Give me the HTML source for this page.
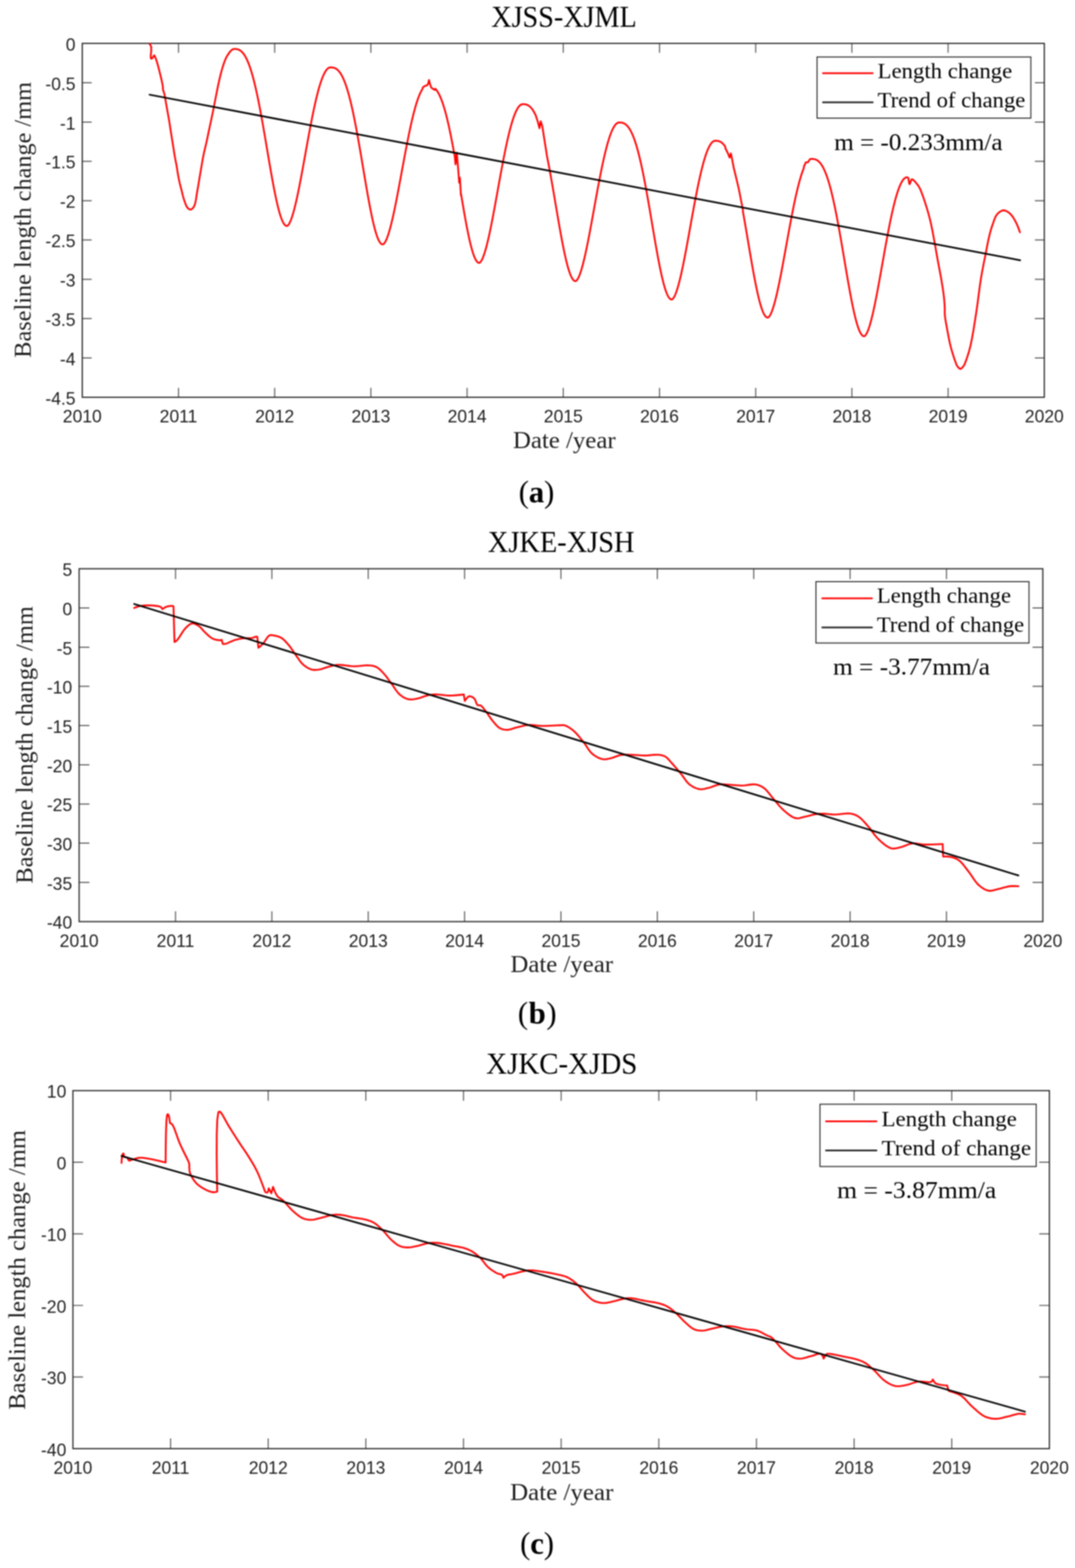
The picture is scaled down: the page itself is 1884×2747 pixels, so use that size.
<!DOCTYPE html><html><head><meta charset="utf-8"><title>Baseline length change</title>
<style>html,body{margin:0;padding:0;background:#fff;}svg{display:block;filter:blur(0.8px);}</style></head><body>
<svg width="1884" height="2747" viewBox="0 0 1884 2747">
<rect width="1884" height="2747" fill="#fff"/>
<g>
<path d="M312.8 696V679.5M312.8 76V92.5M481.4 696V679.5M481.4 76V92.5M650 696V679.5M650 76V92.5M818.6 696V679.5M818.6 76V92.5M987.2 696V679.5M987.2 76V92.5M1155.8 696V679.5M1155.8 76V92.5M1324.4 696V679.5M1324.4 76V92.5M1493 696V679.5M1493 76V92.5M1661.6 696V679.5M1661.6 76V92.5M144.2 144.89H160.7M1830.2 144.89H1813.7M144.2 213.78H160.7M1830.2 213.78H1813.7M144.2 282.67H160.7M1830.2 282.67H1813.7M144.2 351.56H160.7M1830.2 351.56H1813.7M144.2 420.44H160.7M1830.2 420.44H1813.7M144.2 489.33H160.7M1830.2 489.33H1813.7M144.2 558.22H160.7M1830.2 558.22H1813.7M144.2 627.11H160.7M1830.2 627.11H1813.7" stroke="#4a4a4a" stroke-width="1.7" fill="none"/>
<rect x="144.2" y="76" width="1686" height="620" stroke="#262626" stroke-width="2.1" fill="none"/>
<text transform="translate(132.4 88.78) scale(0.965 1)" font-size="31.8" font-family="'Liberation Sans', Arial, sans-serif" fill="#1e1e1e" text-anchor="end">0</text>
<text transform="translate(132.4 157.67) scale(0.965 1)" font-size="31.8" font-family="'Liberation Sans', Arial, sans-serif" fill="#1e1e1e" text-anchor="end">-0.5</text>
<text transform="translate(132.4 226.56) scale(0.965 1)" font-size="31.8" font-family="'Liberation Sans', Arial, sans-serif" fill="#1e1e1e" text-anchor="end">-1</text>
<text transform="translate(132.4 295.45) scale(0.965 1)" font-size="31.8" font-family="'Liberation Sans', Arial, sans-serif" fill="#1e1e1e" text-anchor="end">-1.5</text>
<text transform="translate(132.4 364.34) scale(0.965 1)" font-size="31.8" font-family="'Liberation Sans', Arial, sans-serif" fill="#1e1e1e" text-anchor="end">-2</text>
<text transform="translate(132.4 433.23) scale(0.965 1)" font-size="31.8" font-family="'Liberation Sans', Arial, sans-serif" fill="#1e1e1e" text-anchor="end">-2.5</text>
<text transform="translate(132.4 502.12) scale(0.965 1)" font-size="31.8" font-family="'Liberation Sans', Arial, sans-serif" fill="#1e1e1e" text-anchor="end">-3</text>
<text transform="translate(132.4 571.01) scale(0.965 1)" font-size="31.8" font-family="'Liberation Sans', Arial, sans-serif" fill="#1e1e1e" text-anchor="end">-3.5</text>
<text transform="translate(132.4 639.9) scale(0.965 1)" font-size="31.8" font-family="'Liberation Sans', Arial, sans-serif" fill="#1e1e1e" text-anchor="end">-4</text>
<text transform="translate(132.4 708.78) scale(0.965 1)" font-size="31.8" font-family="'Liberation Sans', Arial, sans-serif" fill="#1e1e1e" text-anchor="end">-4.5</text>
<text transform="translate(144.2 740) scale(0.965 1)" font-size="31.8" font-family="'Liberation Sans', Arial, sans-serif" fill="#1e1e1e" text-anchor="middle">2010</text>
<text transform="translate(312.8 740) scale(0.965 1)" font-size="31.8" font-family="'Liberation Sans', Arial, sans-serif" fill="#1e1e1e" text-anchor="middle">2011</text>
<text transform="translate(481.4 740) scale(0.965 1)" font-size="31.8" font-family="'Liberation Sans', Arial, sans-serif" fill="#1e1e1e" text-anchor="middle">2012</text>
<text transform="translate(650 740) scale(0.965 1)" font-size="31.8" font-family="'Liberation Sans', Arial, sans-serif" fill="#1e1e1e" text-anchor="middle">2013</text>
<text transform="translate(818.6 740) scale(0.965 1)" font-size="31.8" font-family="'Liberation Sans', Arial, sans-serif" fill="#1e1e1e" text-anchor="middle">2014</text>
<text transform="translate(987.2 740) scale(0.965 1)" font-size="31.8" font-family="'Liberation Sans', Arial, sans-serif" fill="#1e1e1e" text-anchor="middle">2015</text>
<text transform="translate(1155.8 740) scale(0.965 1)" font-size="31.8" font-family="'Liberation Sans', Arial, sans-serif" fill="#1e1e1e" text-anchor="middle">2016</text>
<text transform="translate(1324.4 740) scale(0.965 1)" font-size="31.8" font-family="'Liberation Sans', Arial, sans-serif" fill="#1e1e1e" text-anchor="middle">2017</text>
<text transform="translate(1493 740) scale(0.965 1)" font-size="31.8" font-family="'Liberation Sans', Arial, sans-serif" fill="#1e1e1e" text-anchor="middle">2018</text>
<text transform="translate(1661.6 740) scale(0.965 1)" font-size="31.8" font-family="'Liberation Sans', Arial, sans-serif" fill="#1e1e1e" text-anchor="middle">2019</text>
<text transform="translate(1830.2 740) scale(0.965 1)" font-size="31.8" font-family="'Liberation Sans', Arial, sans-serif" fill="#1e1e1e" text-anchor="middle">2020</text>
<path d="M262.2 76.9L262.82 77.79L264.09 79.92L265.1 82.5L265.03 89.43L264.15 97.8L264.5 102.6L265.24 102.78L266.14 102.51L267 102L268.09 100.31L269.1 98.08L270.1 97L271.39 98.46L272.68 101.66L273.9 105.1L275.21 109.03L276.42 113.3L277.6 117.7L278.89 122.55L280.16 127.56L281.4 132.7L282.82 138.73L284.2 144.92L285.2 150.3L285.44 153.09L285.52 155.54L285.8 157.8L286.36 159.49L287.05 161.04L287.7 162.8L288.38 165.79L288.97 169.19L289.6 172.9L290.57 178.34L291.62 184.33L292.7 190.5L293.97 197.51L295.28 204.75L296.5 211.8L297.49 218.02L298.4 224.09L299.3 230L300.14 235.29L300.97 240.44L301.8 245.6L302.63 250.8L303.47 256L304.3 261.2L305.12 266.47L305.94 271.73L306.8 276.8L307.62 281.02L308.48 285.08L309.3 289.3L310.13 294.37L310.93 299.64L311.8 304.9L312.77 310.17L313.81 315.44L314.9 320.5L315.94 324.74L317.03 328.82L318.1 332.9L319.11 337.09L320.11 341.29L321.2 345.4L322.35 349.28L323.58 353.08L324.9 356.6L326.02 359.39L327.22 361.98L328.7 364.1L330.34 365.62L332.18 366.8L334 367.2L335.88 366.44L337.72 364.82L339.3 362.9L340.6 360.56L341.55 357.85L342.4 354.8L343.39 350.02L344.18 344.65L345 339.2L345.97 333.63L346.96 327.98L348 322L349.27 314.36L350.6 306.28L352 298L353.59 288.65L355.26 279.05L357 270L358.56 263.04L360.17 256.47L361.7 250L362.97 244.13L364.16 238.35L365.5 231.9L367.88 220.76L370.53 208.31L373 196.5L374.73 187.78L376.33 179.52L378 171L380.01 160.83L382.11 150.34L384.3 140.3L386.31 131.92L388.39 123.89L390.6 116.4L392.54 110.52L394.57 105.03L396.8 100.1L399.28 95.99L401.89 92.24L403.1 90.6L404.18 89.49L404.89 88.71L405.59 88.03L406.29 87.44L406.99 86.94L407.69 86.53L408.39 86.21L409.1 85.98L409.8 85.85L410.5 85.8L411.2 85.8L411.91 85.81L412.61 85.84L413.32 85.89L414.02 85.96L414.72 86.05L415.43 86.18L416.13 86.33L416.83 86.52L417.54 86.75L418.24 87.02L418.95 87.33L419.65 87.68L420.35 88.08L421.06 88.53L421.76 89.02L422.46 89.57L423.17 90.17L423.87 90.83L424.58 91.54L425.28 92.31L425.98 93.14L426.69 94.03L427.39 94.98L428.1 96L428.8 97.08L429.5 98.23L430.21 99.44L430.91 100.73L431.61 102.08L432.32 103.5L433.02 104.99L433.73 106.55L434.43 108.18L435.13 109.89L435.84 111.67L436.54 113.52L437.25 115.44L437.95 117.44L438.65 119.51L439.36 121.66L440.06 123.88L440.76 126.17L441.47 128.53L442.17 130.97L442.88 133.48L443.58 136.07L444.28 138.72L444.99 141.45L445.69 144.25L446.39 147.11L447.1 150.05L447.8 153.05L448.51 156.12L449.21 159.26L449.91 162.46L450.62 165.72L451.32 169.05L452.03 172.43L452.73 175.88L453.43 179.38L454.14 182.93L454.84 186.54L455.54 190.2L456.25 193.91L456.95 197.67L457.66 201.47L458.36 205.31L459.06 209.2L459.77 213.12L460.47 217.08L461.17 221.07L461.88 225.09L462.58 229.14L463.29 233.21L463.99 237.31L464.69 241.42L465.4 245.55L466.1 249.69L466.81 253.84L467.51 258L468.21 262.16L468.92 266.32L469.62 270.47L470.32 274.62L471.03 278.76L471.73 282.88L472.44 286.99L473.14 291.07L473.84 295.13L474.55 299.16L475.25 303.16L475.95 307.12L476.66 311.05L477.36 314.93L478.07 318.76L478.77 322.54L479.47 326.27L480.18 329.93L480.88 333.54L481.59 337.08L482.29 340.55L482.99 343.95L483.7 347.27L484.4 350.51L485.1 353.66L485.81 356.73L486.51 359.71L487.22 362.59L487.92 365.37L488.62 368.05L489.33 370.63L490.03 373.1L490.74 375.46L491.44 377.7L492.14 379.83L492.85 381.83L493.55 383.71L494.25 385.47L494.96 387.1L495.66 388.6L496.37 389.96L497.07 391.19L497.77 392.28L498.48 393.23L499.18 394.04L499.88 394.71L500.59 395.23L501.29 395.6L502 395.82L502.7 395.9L503.4 395.72L504.1 395.3L504.8 394.67L505.5 393.86L506.2 392.89L506.91 391.76L507.61 390.47L508.31 389.05L509.01 387.48L509.71 385.79L510.41 383.97L511.11 382.03L511.81 379.97L512.51 377.8L513.21 375.52L513.91 373.14L514.62 370.66L515.32 368.08L516.02 365.41L516.72 362.65L517.42 359.81L518.12 356.88L518.82 353.87L519.52 350.79L520.22 347.64L520.92 344.43L521.62 341.14L522.33 337.8L523.03 334.4L523.73 330.94L524.43 327.43L525.13 323.88L525.83 320.28L526.53 316.64L527.23 312.96L527.93 309.25L528.63 305.51L529.33 301.74L530.04 297.94L530.74 294.12L531.44 290.28L532.14 286.43L532.84 282.56L533.54 278.69L534.24 274.81L534.94 270.92L535.64 267.03L536.34 263.15L537.04 259.27L537.75 255.39L538.45 251.53L539.15 247.68L539.85 243.85L540.55 240.03L541.25 236.24L541.95 232.47L542.65 228.73L543.35 225.02L544.05 221.33L544.76 217.69L545.46 214.08L546.16 210.5L546.86 206.97L547.56 203.48L548.26 200.04L548.96 196.65L549.66 193.3L550.36 190.01L551.06 186.77L551.76 183.59L552.47 180.46L553.17 177.4L553.87 174.4L554.57 171.46L555.27 168.58L555.97 165.77L556.67 163.03L557.37 160.36L558.07 157.77L558.77 155.24L559.47 152.79L560.18 150.41L560.88 148.11L561.58 145.89L562.28 143.75L562.98 141.69L563.68 139.71L564.38 137.81L565.08 136L565.78 134.27L566.48 132.62L567.18 131.06L567.89 129.59L568.59 128.2L569.29 126.9L569.99 125.69L570.69 124.57L571.39 123.54L572.09 122.59L572.79 121.74L573.49 120.98L574.19 120.3L574.89 119.72L575.6 119.22L576.3 118.82L577 118.5L577.7 118.28L578.4 118.14L579.1 118.1L579.8 118.1L580.51 118.11L581.21 118.14L581.92 118.19L582.62 118.26L583.33 118.36L584.03 118.48L584.74 118.64L585.44 118.84L586.15 119.07L586.85 119.34L587.56 119.66L588.26 120.02L588.96 120.42L589.67 120.88L590.37 121.39L591.08 121.94L591.78 122.56L592.49 123.23L593.19 123.95L593.9 124.74L594.6 125.59L595.31 126.5L596.01 127.47L596.72 128.5L597.42 129.61L598.12 130.78L598.83 132.02L599.53 133.32L600.24 134.7L600.94 136.15L601.65 137.67L602.35 139.26L603.06 140.92L603.76 142.66L604.47 144.47L605.17 146.36L605.88 148.32L606.58 150.35L607.28 152.46L607.99 154.65L608.69 156.91L609.4 159.24L610.1 161.65L610.81 164.13L611.51 166.69L612.22 169.32L612.92 172.02L613.63 174.8L614.33 177.64L615.04 180.56L615.74 183.54L616.44 186.6L617.15 189.72L617.85 192.91L618.56 196.16L619.26 199.47L619.97 202.85L620.67 206.29L621.38 209.78L622.08 213.34L622.79 216.95L623.49 220.61L624.2 224.32L624.9 228.08L625.6 231.89L626.31 235.75L627.01 239.64L627.72 243.58L628.42 247.55L629.13 251.56L629.83 255.59L630.54 259.66L631.24 263.76L631.95 267.87L632.65 272.01L633.36 276.16L634.06 280.33L634.76 284.51L635.47 288.7L636.17 292.89L636.88 297.08L637.58 301.27L638.29 305.45L638.99 309.63L639.7 313.79L640.4 317.93L641.11 322.06L641.81 326.15L642.52 330.23L643.22 334.27L643.92 338.27L644.63 342.23L645.33 346.16L646.04 350.03L646.74 353.86L647.45 357.62L648.15 361.34L648.86 364.99L649.56 368.57L650.27 372.08L650.97 375.52L651.68 378.88L652.38 382.16L653.08 385.36L653.79 388.47L654.49 391.49L655.2 394.41L655.9 397.23L656.61 399.95L657.31 402.56L658.02 405.06L658.72 407.45L659.43 409.73L660.13 411.89L660.84 413.92L661.54 415.83L662.24 417.61L662.95 419.27L663.65 420.79L664.36 422.17L665.06 423.42L665.77 424.53L666.47 425.49L667.18 426.31L667.88 426.99L668.59 427.52L669.29 427.9L670 428.12L670.7 428.2L671.41 428.03L672.11 427.62L672.82 427.01L673.52 426.22L674.23 425.27L674.93 424.17L675.64 422.93L676.34 421.54L677.05 420.02L677.75 418.37L678.46 416.6L679.16 414.72L679.87 412.71L680.58 410.6L681.28 408.39L681.99 406.07L682.69 403.65L683.4 401.14L684.1 398.54L684.81 395.85L685.51 393.08L686.22 390.23L686.92 387.3L687.63 384.29L688.34 381.22L689.04 378.08L689.75 374.87L690.45 371.61L691.16 368.29L691.86 364.91L692.57 361.48L693.27 358.01L693.98 354.49L694.68 350.93L695.39 347.33L696.09 343.69L696.8 340.02L697.51 336.33L698.21 332.6L698.92 328.86L699.62 325.09L700.33 321.3L701.03 317.5L701.74 313.69L702.44 309.87L703.15 306.05L703.85 302.22L704.56 298.39L705.26 294.56L705.97 290.74L706.68 286.92L707.38 283.12L708.09 279.33L708.79 275.55L709.5 271.79L710.2 268.06L710.91 264.34L711.61 260.66L712.32 257L713.02 253.37L713.73 249.77L714.44 246.21L715.14 242.68L715.85 239.2L716.55 235.76L717.26 232.36L717.96 229L718.67 225.7L719.37 222.44L720.08 219.24L720.78 216.09L721.49 212.99L722.19 209.95L722.9 206.98L723.61 204.06L724.31 201.2L725.02 198.41L725.72 195.68L726.43 193.03L727.13 190.44L727.84 187.92L728.54 185.47L729.25 183.09L729.95 180.79L730.66 178.56L731.36 176.41L732.07 174.33L732.78 172.33L733.48 170.42L734.19 168.58L734.89 166.82L735.6 165.15L736.3 163.55L737.01 162.04L737.71 160.62L738.42 159.28L739.12 158.02L739.83 156.85L740.54 155.76L741.2 152.8L745 150.5L749.2 149L750.5 146L751.9 140.2L753.5 147L755.8 153.4L758.5 155.5L762.4 157.5L763.06 155.49L763.77 156.29L764.47 157.16L765.17 158.09L765.87 159.08L766.58 160.14L767.28 161.27L767.98 162.47L768.69 163.73L769.39 165.07L770.09 166.48L770.8 167.96L771.5 169.51L772.2 171.14L772.91 172.84L773.61 174.62L774.31 176.47L775.01 178.4L775.72 180.4L776.42 182.48L777.12 184.64L777.83 186.87L778.53 189.17L779.23 191.56L779.94 194.02L780.64 196.55L781.34 199.16L782.05 201.85L782.75 204.61L783.45 207.44L784.16 210.34L784.86 213.31L785.56 216.36L786.26 219.47L786.97 222.66L787.67 225.91L788.37 229.22L789.08 232.6L789.78 236.04L790.48 239.54L791.19 243.1L791.89 246.72L792.59 250.39L793.3 254.12L794 257.9L794.7 261.72L795.4 265.59L796.11 269.51L796.8 272L798.3 288L799.4 278L800.5 267.5L801.5 279L802.6 290.9L804.8 320.2L806 311.4L807.8 342.1L808.06 340.13L808.76 344.34L809.47 348.53L810.17 352.7L810.87 356.85L811.58 360.98L812.28 365.07L812.98 369.13L813.69 373.15L814.39 377.12L815.09 381.05L815.79 384.93L816.5 388.76L817.2 392.52L817.9 396.23L818.61 399.87L819.31 403.43L820.01 406.93L820.72 410.34L821.42 413.67L822.12 416.92L822.83 420.08L823.53 423.15L824.23 426.12L824.93 428.98L825.64 431.75L826.34 434.41L827.04 436.95L827.75 439.38L828.45 441.7L829.15 443.89L829.86 445.96L830.56 447.91L831.26 449.72L831.97 451.41L832.67 452.95L833.37 454.36L834.08 455.63L834.78 456.76L835.48 457.74L836.18 458.58L836.89 459.27L837.59 459.8L838.29 460.19L839 460.42L839.7 460.5L840.4 460.32L841.1 459.9L841.8 459.27L842.5 458.46L843.2 457.49L843.91 456.35L844.61 455.07L845.31 453.64L846.01 452.08L846.71 450.38L847.41 448.56L848.11 446.62L848.81 444.56L849.51 442.39L850.21 440.11L850.91 437.73L851.62 435.24L852.32 432.66L853.02 429.99L853.72 427.23L854.42 424.38L855.12 421.45L855.82 418.44L856.52 415.36L857.22 412.21L857.92 408.99L858.62 405.7L859.33 402.36L860.03 398.95L860.73 395.49L861.43 391.99L862.13 388.43L862.83 384.83L863.53 381.19L864.23 377.51L864.93 373.79L865.63 370.04L866.33 366.27L867.04 362.47L867.74 358.65L868.44 354.81L869.14 350.95L869.84 347.08L870.54 343.2L871.24 339.32L871.94 335.43L872.64 331.54L873.34 327.65L874.04 323.77L874.75 319.89L875.45 316.03L876.15 312.17L876.85 308.34L877.55 304.52L878.25 300.73L878.95 296.95L879.65 293.21L880.35 289.49L881.05 285.81L881.76 282.16L882.46 278.54L883.16 274.97L883.86 271.44L884.56 267.95L885.26 264.5L885.96 261.1L886.66 257.76L887.36 254.46L888.06 251.22L888.76 248.04L889.47 244.91L890.17 241.84L890.87 238.84L891.57 235.89L892.27 233.02L892.97 230.21L893.67 227.47L894.37 224.79L895.07 222.19L895.77 219.67L896.47 217.21L897.18 214.84L897.88 212.54L898.58 210.31L899.28 208.17L899.98 206.11L900.68 204.13L901.38 202.23L902.08 200.41L902.78 198.68L903.48 197.03L904.18 195.47L904.89 194L905.59 192.61L906.29 191.31L906.99 190.1L907.69 188.98L908.39 187.94L909.09 187L909.79 186.14L910.49 185.38L911.19 184.7L911.89 184.12L912.6 183.62L913.3 183.22L914 182.9L914.7 182.68L915.4 182.54L916.1 182.5L916.81 182.5L917.51 182.51L918.22 182.54L918.92 182.59L919.63 182.66L920.33 182.75L921.04 182.88L921.74 183.03L922.45 183.22L923.15 183.45L923.86 183.72L924.56 184.03L925.27 184.38L925.97 184.78L926.68 185.22L927.39 185.72L928.09 186.27L928.8 186.87L929.5 187.52L930.21 188.24L930.91 189.01L931.62 189.84L932.32 190.73L933.03 191.68L933.73 192.7L934.44 193.78L935.14 194.93L935.85 196.14L936.55 197.42L937.26 198.77L937.97 200.19L938.67 201.68L939.38 203.24L939.8 205L942.5 213L945.5 224.7L947.6 212.6L950.4 221.1L954 243.9L958.2 270.5L958.42 272.55L959.13 276.05L959.83 279.6L960.54 283.21L961.24 286.87L961.95 290.58L962.65 294.33L963.36 298.13L964.06 301.98L964.77 305.86L965.47 309.78L966.18 313.74L966.88 317.73L967.59 321.75L968.3 325.79L969 329.86L969.71 333.96L970.41 338.07L971.12 342.2L971.82 346.34L972.53 350.49L973.23 354.64L973.94 358.8L974.64 362.96L975.35 367.11L976.05 371.26L976.76 375.4L977.46 379.52L978.17 383.62L978.88 387.71L979.58 391.76L980.29 395.79L980.99 399.79L981.7 403.75L982.4 407.67L983.11 411.55L983.81 415.38L984.52 419.16L985.22 422.89L985.93 426.55L986.63 430.16L987.34 433.7L988.05 437.17L988.75 440.56L989.46 443.88L990.16 447.12L990.87 450.27L991.57 453.34L992.28 456.32L992.98 459.2L993.69 461.98L994.39 464.66L995.1 467.24L995.8 469.71L996.51 472.06L997.21 474.31L997.92 476.43L998.63 478.44L999.33 480.32L1000.04 482.07L1000.74 483.7L1001.45 485.2L1002.15 486.56L1002.86 487.79L1003.56 488.88L1004.27 489.83L1004.97 490.64L1005.68 491.31L1006.38 491.83L1007.09 492.2L1007.79 492.42L1008.5 492.5L1009.2 492.32L1009.91 491.9L1010.61 491.27L1011.31 490.46L1012.01 489.49L1012.72 488.35L1013.42 487.07L1014.12 485.64L1014.82 484.08L1015.53 482.39L1016.23 480.57L1016.93 478.62L1017.64 476.57L1018.34 474.4L1019.04 472.12L1019.74 469.73L1020.45 467.25L1021.15 464.67L1021.85 462L1022.56 459.24L1023.26 456.39L1023.96 453.47L1024.66 450.46L1025.37 447.38L1026.07 444.23L1026.77 441.01L1027.47 437.72L1028.18 434.38L1028.88 430.97L1029.58 427.52L1030.29 424.01L1030.99 420.45L1031.69 416.85L1032.39 413.21L1033.1 409.53L1033.8 405.82L1034.5 402.08L1035.2 398.3L1035.91 394.51L1036.61 390.69L1037.31 386.85L1038.02 382.99L1038.72 379.12L1039.42 375.25L1040.12 371.36L1040.83 367.47L1041.53 363.58L1042.23 359.7L1042.93 355.82L1043.64 351.94L1044.34 348.08L1045.04 344.23L1045.75 340.39L1046.45 336.58L1047.15 332.78L1047.85 329.01L1048.56 325.27L1049.26 321.55L1049.96 317.87L1050.67 314.22L1051.37 310.61L1052.07 307.04L1052.77 303.5L1053.48 300.01L1054.18 296.57L1054.88 293.18L1055.58 289.83L1056.29 286.54L1056.99 283.3L1057.69 280.11L1058.4 276.99L1059.1 273.92L1059.8 270.92L1060.5 267.98L1061.21 265.1L1061.91 262.29L1062.61 259.55L1063.31 256.88L1064.02 254.28L1064.72 251.75L1065.42 249.3L1066.13 246.92L1066.83 244.63L1067.53 242.4L1068.23 240.26L1068.94 238.2L1069.64 236.22L1070.34 234.32L1071.04 232.5L1071.75 230.77L1072.45 229.13L1073.15 227.57L1073.86 226.09L1074.56 224.71L1075.26 223.41L1075.96 222.2L1076.67 221.07L1077.37 220.04L1078.07 219.1L1078.78 218.24L1079.48 217.48L1080.18 216.8L1080.88 216.22L1081.59 215.72L1082.29 215.32L1082.99 215L1083.69 214.78L1084.4 214.64L1085.1 214.6L1085.8 214.6L1086.5 214.61L1087.21 214.64L1087.91 214.69L1088.61 214.76L1089.31 214.85L1090.02 214.98L1090.72 215.13L1091.42 215.32L1092.12 215.55L1092.83 215.82L1093.53 216.13L1094.23 216.48L1094.93 216.88L1095.63 217.33L1096.34 217.82L1097.04 218.37L1097.74 218.97L1098.44 219.63L1099.15 220.34L1099.85 221.11L1100.55 221.94L1101.25 222.83L1101.95 223.78L1102.66 224.8L1103.36 225.88L1104.06 227.03L1104.76 228.24L1105.47 229.53L1106.17 230.88L1106.87 232.3L1107.57 233.79L1108.28 235.35L1108.98 236.98L1109.68 238.69L1110.38 240.47L1111.08 242.32L1111.79 244.24L1112.49 246.24L1113.19 248.31L1113.89 250.46L1114.6 252.68L1115.3 254.97L1116 257.33L1116.7 259.77L1117.41 262.28L1118.11 264.87L1118.81 267.52L1119.51 270.25L1120.21 273.05L1120.92 275.91L1121.62 278.85L1122.32 281.85L1123.02 284.92L1123.73 288.06L1124.43 291.26L1125.13 294.52L1125.83 297.85L1126.54 301.23L1127.24 304.68L1127.94 308.18L1128.64 311.73L1129.34 315.34L1130.05 319L1130.75 322.71L1131.45 326.47L1132.15 330.27L1132.86 334.11L1133.56 338L1134.26 341.92L1134.96 345.88L1135.66 349.87L1136.37 353.89L1137.07 357.94L1137.77 362.01L1138.47 366.11L1139.18 370.22L1139.88 374.35L1140.58 378.49L1141.28 382.64L1141.99 386.8L1142.69 390.96L1143.39 395.12L1144.09 399.27L1144.79 403.42L1145.5 407.56L1146.2 411.68L1146.9 415.79L1147.6 419.87L1148.31 423.93L1149.01 427.96L1149.71 431.96L1150.41 435.92L1151.12 439.85L1151.82 443.73L1152.52 447.56L1153.22 451.34L1153.92 455.07L1154.63 458.73L1155.33 462.34L1156.03 465.88L1156.73 469.35L1157.44 472.75L1158.14 476.07L1158.84 479.31L1159.54 482.46L1160.25 485.53L1160.95 488.51L1161.65 491.39L1162.35 494.17L1163.05 496.85L1163.76 499.43L1164.46 501.9L1165.16 504.26L1165.86 506.5L1166.57 508.63L1167.27 510.63L1167.97 512.51L1168.67 514.27L1169.37 515.9L1170.08 517.4L1170.78 518.76L1171.48 519.99L1172.18 521.08L1172.89 522.03L1173.59 522.84L1174.29 523.51L1174.99 524.03L1175.7 524.4L1176.4 524.62L1177.1 524.7L1177.8 524.52L1178.5 524.1L1179.2 523.47L1179.9 522.66L1180.6 521.69L1181.31 520.55L1182.01 519.27L1182.71 517.84L1183.41 516.27L1184.11 514.58L1184.81 512.76L1185.51 510.81L1186.21 508.75L1186.91 506.58L1187.61 504.3L1188.31 501.92L1189.02 499.43L1189.72 496.85L1190.42 494.18L1191.12 491.42L1191.82 488.57L1192.52 485.64L1193.22 482.63L1193.92 479.55L1194.62 476.39L1195.32 473.17L1196.02 469.88L1196.73 466.54L1197.43 463.13L1198.13 459.67L1198.83 456.16L1199.53 452.6L1200.23 449L1200.93 445.36L1201.63 441.68L1202.33 437.96L1203.03 434.21L1203.73 430.44L1204.44 426.63L1205.14 422.81L1205.84 418.97L1206.54 415.11L1207.24 411.24L1207.94 407.36L1208.64 403.47L1209.34 399.58L1210.04 395.69L1210.74 391.8L1211.44 387.92L1212.15 384.04L1212.85 380.17L1213.55 376.32L1214.25 372.48L1214.95 368.67L1215.65 364.87L1216.35 361.1L1217.05 357.35L1217.75 353.63L1218.45 349.95L1219.16 346.29L1219.86 342.68L1220.56 339.1L1221.26 335.57L1221.96 332.08L1222.66 328.63L1223.36 325.23L1224.06 321.88L1224.76 318.59L1225.46 315.35L1226.16 312.16L1226.87 309.03L1227.57 305.96L1228.27 302.96L1228.97 300.01L1229.67 297.14L1230.37 294.32L1231.07 291.58L1231.77 288.91L1232.47 286.31L1233.17 283.78L1233.87 281.33L1234.58 278.95L1235.28 276.65L1235.98 274.42L1236.68 272.28L1237.38 270.22L1238.08 268.23L1238.78 266.33L1239.48 264.52L1240.18 262.79L1240.88 261.14L1241.58 259.58L1242.29 258.1L1242.99 256.71L1243.69 255.41L1244.39 254.2L1245.09 253.08L1245.79 252.04L1246.49 251.1L1247.19 250.24L1247.89 249.48L1248.59 248.8L1249.29 248.22L1250 247.72L1250.7 247.32L1251.4 247L1252.1 246.78L1252.8 246.64L1253.5 246.6L1254.2 246.6L1254.9 246.61L1255.6 246.64L1256.31 246.69L1257.01 246.76L1257.71 246.85L1258.41 246.98L1259.11 247.13L1259.81 247.32L1260.52 247.55L1261.22 247.82L1261.92 248.13L1262.62 248.48L1263.32 248.88L1264.02 249.32L1264.72 249.82L1265.43 250.37L1266.13 250.97L1266.83 251.62L1267.53 252.33L1268.23 253.1L1268.93 253.93L1269.64 254.82L1270.34 255.78L1271.04 256.79L1271.4 260L1275.5 268L1278.7 276.1L1280.9 268.8L1282.5 276L1285.9 293.9L1288.8 305.6L1294.6 330L1301.9 367L1301.91 369.88L1302.61 373.8L1303.31 377.75L1304.01 381.74L1304.71 385.76L1305.41 389.8L1306.11 393.87L1306.82 397.96L1307.52 402.07L1308.22 406.19L1308.92 410.33L1309.62 414.48L1310.32 418.63L1311.03 422.79L1311.73 426.94L1312.43 431.09L1313.13 435.24L1313.83 439.37L1314.53 443.49L1315.23 447.59L1315.94 451.67L1316.64 455.73L1317.34 459.76L1318.04 463.75L1318.74 467.71L1319.44 471.63L1320.15 475.5L1320.85 479.33L1321.55 483.11L1322.25 486.83L1322.95 490.5L1323.65 494.1L1324.35 497.64L1325.06 501.1L1325.76 504.5L1326.46 507.81L1327.16 511.05L1327.86 514.2L1328.56 517.27L1329.26 520.24L1329.97 523.12L1330.67 525.9L1331.37 528.58L1332.07 531.15L1332.77 533.62L1333.47 535.98L1334.18 538.22L1334.88 540.34L1335.58 542.34L1336.28 544.23L1336.98 545.98L1337.68 547.61L1338.38 549.1L1339.09 550.47L1339.79 551.7L1340.49 552.79L1341.19 553.74L1341.89 554.54L1342.59 555.21L1343.3 555.73L1344 556.1L1344.7 556.32L1345.4 556.4L1346.1 556.22L1346.81 555.8L1347.51 555.17L1348.21 554.36L1348.92 553.39L1349.62 552.25L1350.33 550.97L1351.03 549.54L1351.73 547.98L1352.44 546.28L1353.14 544.46L1353.84 542.52L1354.55 540.46L1355.25 538.29L1355.96 536.01L1356.66 533.63L1357.36 531.14L1358.07 528.56L1358.77 525.89L1359.47 523.13L1360.18 520.28L1360.88 517.35L1361.58 514.34L1362.29 511.26L1362.99 508.11L1363.7 504.89L1364.4 501.6L1365.1 498.26L1365.81 494.85L1366.51 491.39L1367.21 487.89L1367.92 484.33L1368.62 480.73L1369.32 477.09L1370.03 473.41L1370.73 469.69L1371.44 465.94L1372.14 462.17L1372.84 458.37L1373.55 454.55L1374.25 450.71L1374.95 446.85L1375.66 442.98L1376.36 439.1L1377.07 435.22L1377.77 431.33L1378.47 427.44L1379.18 423.55L1379.88 419.67L1380.58 415.79L1381.29 411.93L1381.99 408.07L1382.69 404.24L1383.4 400.42L1384.1 396.63L1384.81 392.85L1385.51 389.11L1386.21 385.39L1386.92 381.71L1387.62 378.06L1388.32 374.44L1389.03 370.87L1389.73 367.34L1390.43 363.85L1391.14 360.4L1391.84 357L1392.55 353.66L1393.25 350.36L1393.95 347.12L1394.66 343.94L1395.36 340.81L1396.06 337.74L1396.77 334.74L1397.47 331.79L1398.18 328.92L1398.88 326.11L1399.58 323.37L1400.29 320.69L1400.99 318.09L1401.69 315.57L1402.4 313.11L1403.1 310.74L1403.8 308.44L1404.51 306.21L1405.21 304.07L1405.92 302.01L1406.62 300.03L1407.32 298.13L1408.03 296.31L1408.73 294.58L1409 291.5L1412.3 284.5L1416.1 284.1L1419 279.5L1419.29 279.12L1419.99 278.8L1420.69 278.58L1421.4 278.44L1422.1 278.4L1422.8 278.4L1423.51 278.41L1424.21 278.44L1424.92 278.49L1425.62 278.56L1426.32 278.65L1427.03 278.78L1427.73 278.93L1428.43 279.13L1429.14 279.35L1429.84 279.62L1430.55 279.93L1431.25 280.28L1431.95 280.68L1432.66 281.13L1433.36 281.63L1434.06 282.18L1434.77 282.78L1435.47 283.44L1436.18 284.15L1436.88 284.92L1437.58 285.75L1438.29 286.65L1438.99 287.6L1439.7 288.62L1440.4 289.7L1441.1 290.85L1441.81 292.07L1442.51 293.36L1443.21 294.71L1443.92 296.13L1444.62 297.63L1445.33 299.19L1446.03 300.83L1446.73 302.54L1447.44 304.32L1448.14 306.17L1448.85 308.1L1449.55 310.1L1450.25 312.18L1450.96 314.33L1451.66 316.55L1452.36 318.85L1453.07 321.22L1453.77 323.66L1454.48 326.18L1455.18 328.77L1455.88 331.43L1456.59 334.16L1457.29 336.96L1457.99 339.83L1458.7 342.77L1459.4 345.78L1460.11 348.86L1460.81 352L1461.51 355.21L1462.22 358.48L1462.92 361.81L1463.63 365.2L1464.33 368.65L1465.03 372.16L1465.74 375.72L1466.44 379.34L1467.14 383L1467.85 386.72L1468.55 390.48L1469.26 394.29L1469.96 398.15L1470.66 402.04L1471.37 405.97L1472.07 409.93L1472.77 413.93L1473.48 417.96L1474.18 422.02L1474.89 426.1L1475.59 430.2L1476.29 434.32L1477 438.46L1477.7 442.61L1478.41 446.77L1479.11 450.93L1479.81 455.1L1480.52 459.27L1481.22 463.43L1481.92 467.59L1482.63 471.73L1483.33 475.86L1484.04 479.98L1484.74 484.07L1485.44 488.14L1486.15 492.18L1486.85 496.18L1487.55 500.15L1488.26 504.08L1488.96 507.97L1489.67 511.81L1490.37 515.6L1491.07 519.33L1491.78 523.01L1492.48 526.62L1493.19 530.17L1493.89 533.64L1494.59 537.05L1495.3 540.37L1496 543.62L1496.7 546.78L1497.41 549.85L1498.11 552.84L1498.82 555.72L1499.52 558.51L1500.22 561.2L1500.93 563.78L1501.63 566.25L1502.34 568.62L1503.04 570.86L1503.74 572.99L1504.45 575L1505.15 576.89L1505.85 578.65L1506.56 580.28L1507.26 581.78L1507.97 583.15L1508.67 584.38L1509.37 585.47L1510.08 586.43L1510.78 587.24L1511.48 587.9L1512.19 588.43L1512.89 588.8L1513.6 589.02L1514.3 589.1L1515 588.92L1515.71 588.48L1516.41 587.83L1517.12 586.99L1517.82 585.98L1518.53 584.81L1519.23 583.48L1519.94 582L1520.64 580.38L1521.35 578.63L1522.05 576.75L1522.76 574.74L1523.46 572.61L1524.17 570.36L1524.87 568.01L1525.57 565.54L1526.28 562.98L1526.98 560.31L1527.69 557.55L1528.39 554.7L1529.1 551.76L1529.8 548.74L1530.51 545.63L1531.21 542.46L1531.92 539.2L1532.62 535.88L1533.33 532.5L1534.03 529.05L1534.74 525.55L1535.44 521.99L1536.14 518.38L1536.85 514.72L1537.55 511.02L1538.26 507.27L1538.96 503.49L1539.67 499.68L1540.37 495.84L1541.08 491.96L1541.78 488.07L1542.49 484.15L1543.19 480.22L1543.9 476.27L1544.6 472.31L1545.31 468.35L1546.01 464.38L1546.71 460.41L1547.42 456.44L1548.12 452.47L1548.83 448.51L1549.53 444.57L1550.24 440.63L1550.94 436.72L1551.65 432.82L1552.35 428.95L1553.06 425.1L1553.76 421.27L1554.47 417.48L1555.17 413.72L1555.88 410L1556.58 406.31L1557.29 402.67L1557.99 399.07L1558.69 395.51L1559.4 392.01L1560.1 388.55L1560.81 385.14L1561.51 381.79L1562.22 378.5L1562.92 375.26L1563.63 372.09L1564.33 368.98L1565.04 365.93L1565.74 362.95L1566.45 360.04L1567.15 357.2L1567.86 354.43L1568.56 351.73L1569.26 349.11L1569.97 346.57L1570.67 344.1L1571.38 341.71L1572.08 339.4L1572.79 337.18L1573.49 335.04L1574.2 332.98L1574.9 331.01L1575.61 329.12L1576.31 327.32L1577.02 325.61L1577.72 323.99L1578.43 322.46L1579.13 321.01L1579.83 319.66L1580.54 318.4L1581.24 317.23L1581.95 316.16L1582.65 315.18L1583.36 314.29L1584.06 313.49L1584.77 312.79L1585.47 312.18L1586.18 311.67L1586.88 311.25L1587.59 310.92L1588.29 310.69L1589 310.55L1589.7 310.5L1592 311.8L1592.21 313.49L1592.73 317.22L1593.42 320.96L1594.1 322.7L1594.54 322.2L1595.01 320.93L1595.5 319.37L1596 318L1596.44 316.85L1596.87 315.64L1597.36 314.63L1598 314.1L1598.88 314.21L1599.93 314.82L1601.01 315.67L1602 316.5L1602.85 317.28L1603.61 318.13L1604.37 319.07L1605.2 320.1L1606.53 321.71L1607.98 323.5L1609.44 325.47L1610.8 327.6L1612.24 330.39L1613.56 333.41L1614.84 336.7L1616.2 340.3L1618.31 346.09L1620.53 352.6L1622.74 359.41L1624.8 366.1L1626.64 372.43L1628.36 378.7L1630 385.12L1631.6 391.9L1633.43 400.57L1635.2 409.79L1636.89 419.09L1638.5 428L1639.86 435.56L1641.15 442.89L1642.41 450.11L1643.7 457.3L1645 464.2L1646.32 471L1647.63 477.85L1648.9 484.9L1650.29 493.05L1651.69 501.53L1652.97 509.88L1654 517.6L1654.61 523.17L1655.08 528.44L1655.44 533.45L1655.7 538.2L1655.77 541.78L1655.73 545.1L1655.72 548.43L1655.9 552L1656.45 556.75L1657.23 561.73L1658.17 566.99L1659.2 572.6L1660.65 580.71L1662.29 589.57L1664.11 598.57L1666.1 607.1L1668.19 614.67L1670.51 622.27L1672.77 629.16L1674.7 634.6L1675.41 636.59L1676 638.24L1676.64 639.69L1677.5 641.1L1678.71 642.75L1680.12 644.45L1681.63 645.76L1683.1 646.3L1684.58 645.77L1686.1 644.45L1687.55 642.75L1688.8 641.1L1689.72 639.69L1690.45 638.24L1691.12 636.6L1691.9 634.6L1693.85 629.34L1696.07 622.74L1698.36 615.19L1700.5 607.1L1703.29 594.07L1705.92 579.32L1708.41 563.8L1710.8 548.5L1713.05 532.92L1715.12 517.03L1717.19 501.4L1719.4 486.6L1721.53 474.54L1723.79 462.83L1726 451.8L1728 441.8L1729.24 435.33L1730.37 429.39L1731.46 423.82L1732.6 418.5L1733.57 414.29L1734.54 410.3L1735.54 406.46L1736.6 402.7L1737.64 399.27L1738.73 395.93L1739.86 392.67L1741 389.5L1742.02 386.58L1743.03 383.7L1744.12 380.97L1745.4 378.5L1746.65 376.62L1748 374.9L1749.48 373.36L1751.1 372L1752.92 370.73L1754.9 369.58L1756.96 368.74L1759 368.4L1761.1 368.72L1763.25 369.57L1765.34 370.73L1767.3 372L1769.1 373.36L1770.77 374.91L1772.36 376.62L1773.9 378.5L1775.68 381L1777.4 383.78L1779.01 386.67L1780.5 389.5L1781.75 392.06L1782.89 394.64L1783.94 397.17L1784.9 399.6L1785.75 401.9L1786.59 404.35L1787.24 406.3L1787.5 407.1" stroke="#ff0000" stroke-width="3.1" fill="none" stroke-linejoin="round" stroke-linecap="round"/>
<path d="M262.1 165.9L1787.9 456" stroke="#000" stroke-width="3.0" fill="none" stroke-linecap="round"/>
<text x="861" y="46.7" font-size="53" font-family="'Liberation Serif', 'Times New Roman', serif" fill="#000" textLength="255" lengthAdjust="spacingAndGlyphs">XJSS-XJML</text>
<rect x="1431.9" y="99.8" width="374.7" height="107.2" fill="#fff" stroke="#262626" stroke-width="1.8"/>
<path d="M1441.1 128.2H1530.7" stroke="#ff0000" stroke-width="3.1"/>
<path d="M1441.1 179.3H1530.7" stroke="#262626" stroke-width="3.0"/>
<text x="1538" y="136.7" font-size="37.5" font-family="'Liberation Serif', 'Times New Roman', serif" fill="#000" textLength="236" lengthAdjust="spacingAndGlyphs">Length change</text>
<text x="1538" y="187.5" font-size="37.5" font-family="'Liberation Serif', 'Times New Roman', serif" fill="#000" textLength="259" lengthAdjust="spacingAndGlyphs">Trend of change</text>
<text x="1462" y="263.1" font-size="42.5" font-family="'Liberation Serif', 'Times New Roman', serif" fill="#000" textLength="295" lengthAdjust="spacingAndGlyphs">m = -0.233mm/a</text>
<text transform="translate(54.2 385.2) rotate(-90)" x="0" y="0" text-anchor="middle" font-size="42" font-family="'Liberation Serif', 'Times New Roman', serif" fill="#1e1e1e" textLength="483" lengthAdjust="spacingAndGlyphs">Baseline length change /mm</text>
<text x="899" y="785.3" font-size="42" font-family="'Liberation Serif', 'Times New Roman', serif" fill="#1e1e1e" textLength="180" lengthAdjust="spacingAndGlyphs">Date /year</text>
<text x="909" y="880" font-size="54" font-family="'Liberation Serif', 'Times New Roman', serif" fill="#000" textLength="62.5" lengthAdjust="spacing">(<tspan font-weight="bold">a</tspan>)</text>
<path d="M307.59 1614.6V1596.6M307.59 996.4V1014.4M476.48 1614.6V1596.6M476.48 996.4V1014.4M645.37 1614.6V1596.6M645.37 996.4V1014.4M814.26 1614.6V1596.6M814.26 996.4V1014.4M983.15 1614.6V1596.6M983.15 996.4V1014.4M1152.04 1614.6V1596.6M1152.04 996.4V1014.4M1320.93 1614.6V1596.6M1320.93 996.4V1014.4M1489.82 1614.6V1596.6M1489.82 996.4V1014.4M1658.71 1614.6V1596.6M1658.71 996.4V1014.4M138.7 1065.09H156.7M1827.6 1065.09H1809.6M138.7 1133.78H156.7M1827.6 1133.78H1809.6M138.7 1202.47H156.7M1827.6 1202.47H1809.6M138.7 1271.16H156.7M1827.6 1271.16H1809.6M138.7 1339.84H156.7M1827.6 1339.84H1809.6M138.7 1408.53H156.7M1827.6 1408.53H1809.6M138.7 1477.22H156.7M1827.6 1477.22H1809.6M138.7 1545.91H156.7M1827.6 1545.91H1809.6" stroke="#4a4a4a" stroke-width="1.7" fill="none"/>
<rect x="138.7" y="996.4" width="1688.9" height="618.2" stroke="#262626" stroke-width="2.1" fill="none"/>
<text transform="translate(126.5 1009.18) scale(0.965 1)" font-size="31.8" font-family="'Liberation Sans', Arial, sans-serif" fill="#1e1e1e" text-anchor="end">5</text>
<text transform="translate(126.5 1077.87) scale(0.965 1)" font-size="31.8" font-family="'Liberation Sans', Arial, sans-serif" fill="#1e1e1e" text-anchor="end">0</text>
<text transform="translate(126.5 1146.56) scale(0.965 1)" font-size="31.8" font-family="'Liberation Sans', Arial, sans-serif" fill="#1e1e1e" text-anchor="end">-5</text>
<text transform="translate(126.5 1215.25) scale(0.965 1)" font-size="31.8" font-family="'Liberation Sans', Arial, sans-serif" fill="#1e1e1e" text-anchor="end">-10</text>
<text transform="translate(126.5 1283.94) scale(0.965 1)" font-size="31.8" font-family="'Liberation Sans', Arial, sans-serif" fill="#1e1e1e" text-anchor="end">-15</text>
<text transform="translate(126.5 1352.63) scale(0.965 1)" font-size="31.8" font-family="'Liberation Sans', Arial, sans-serif" fill="#1e1e1e" text-anchor="end">-20</text>
<text transform="translate(126.5 1421.32) scale(0.965 1)" font-size="31.8" font-family="'Liberation Sans', Arial, sans-serif" fill="#1e1e1e" text-anchor="end">-25</text>
<text transform="translate(126.5 1490.01) scale(0.965 1)" font-size="31.8" font-family="'Liberation Sans', Arial, sans-serif" fill="#1e1e1e" text-anchor="end">-30</text>
<text transform="translate(126.5 1558.7) scale(0.965 1)" font-size="31.8" font-family="'Liberation Sans', Arial, sans-serif" fill="#1e1e1e" text-anchor="end">-35</text>
<text transform="translate(126.5 1627.38) scale(0.965 1)" font-size="31.8" font-family="'Liberation Sans', Arial, sans-serif" fill="#1e1e1e" text-anchor="end">-40</text>
<text transform="translate(138.7 1658.6) scale(0.965 1)" font-size="31.8" font-family="'Liberation Sans', Arial, sans-serif" fill="#1e1e1e" text-anchor="middle">2010</text>
<text transform="translate(307.59 1658.6) scale(0.965 1)" font-size="31.8" font-family="'Liberation Sans', Arial, sans-serif" fill="#1e1e1e" text-anchor="middle">2011</text>
<text transform="translate(476.48 1658.6) scale(0.965 1)" font-size="31.8" font-family="'Liberation Sans', Arial, sans-serif" fill="#1e1e1e" text-anchor="middle">2012</text>
<text transform="translate(645.37 1658.6) scale(0.965 1)" font-size="31.8" font-family="'Liberation Sans', Arial, sans-serif" fill="#1e1e1e" text-anchor="middle">2013</text>
<text transform="translate(814.26 1658.6) scale(0.965 1)" font-size="31.8" font-family="'Liberation Sans', Arial, sans-serif" fill="#1e1e1e" text-anchor="middle">2014</text>
<text transform="translate(983.15 1658.6) scale(0.965 1)" font-size="31.8" font-family="'Liberation Sans', Arial, sans-serif" fill="#1e1e1e" text-anchor="middle">2015</text>
<text transform="translate(1152.04 1658.6) scale(0.965 1)" font-size="31.8" font-family="'Liberation Sans', Arial, sans-serif" fill="#1e1e1e" text-anchor="middle">2016</text>
<text transform="translate(1320.93 1658.6) scale(0.965 1)" font-size="31.8" font-family="'Liberation Sans', Arial, sans-serif" fill="#1e1e1e" text-anchor="middle">2017</text>
<text transform="translate(1489.82 1658.6) scale(0.965 1)" font-size="31.8" font-family="'Liberation Sans', Arial, sans-serif" fill="#1e1e1e" text-anchor="middle">2018</text>
<text transform="translate(1658.71 1658.6) scale(0.965 1)" font-size="31.8" font-family="'Liberation Sans', Arial, sans-serif" fill="#1e1e1e" text-anchor="middle">2019</text>
<text transform="translate(1827.6 1658.6) scale(0.965 1)" font-size="31.8" font-family="'Liberation Sans', Arial, sans-serif" fill="#1e1e1e" text-anchor="middle">2020</text>
<path d="M235.1 1065.1L235.52 1064.93L236.63 1064.49L238.22 1063.88L240.09 1063.2L242.02 1062.58L243.8 1062.1L245.86 1061.68L248.01 1061.31L250.25 1061.01L252.59 1060.78L255.04 1060.64L257.6 1060.6L261.47 1060.65L265.94 1060.82L270.59 1061.13L275.01 1061.63L278.78 1062.34L281.5 1063.3L282.38 1063.93L283.16 1064.73L283.8 1065.57L284.28 1066.34L284.59 1066.89L284.7 1067.1L285.02 1066.87L285.87 1066.27L287.1 1065.44L288.55 1064.54L290.07 1063.71L291.5 1063.1L293.32 1062.57L295.44 1062.11L297.65 1061.75L299.75 1061.52L301.54 1061.46L302.8 1061.6L303.14 1061.74L303.45 1061.94L303.72 1062.17L303.92 1062.38L304.05 1062.54L304.1 1062.6L305.8 1124.8L306.01 1124.69L306.58 1124.36L307.39 1123.86L308.35 1123.21L309.36 1122.45L310.3 1121.6L312.39 1119.04L314.78 1115.49L317.36 1111.38L320.06 1107.17L322.77 1103.3L325.4 1100.2L327.26 1098.35L329.12 1096.58L330.98 1094.99L332.86 1093.67L334.77 1092.71L336.7 1092.2L338.55 1092.2L340.45 1092.59L342.36 1093.3L344.27 1094.24L346.16 1095.34L348 1096.5L350.15 1098.14L352.23 1100.15L354.28 1102.38L356.33 1104.69L358.39 1106.94L360.5 1109L362.54 1110.86L364.57 1112.75L366.62 1114.58L368.71 1116.29L370.86 1117.79L373.1 1119L375.45 1119.89L378.06 1120.61L380.74 1121.15L383.24 1121.5L385.37 1121.66L386.9 1121.6L387.3 1121.5L387.68 1121.34L388.01 1121.16L388.27 1120.98L388.44 1120.85L388.5 1120.8L390.6 1128.3L390.83 1128.3L391.46 1128.29L392.36 1128.25L393.44 1128.16L394.59 1128.02L395.7 1127.8L397.76 1127.13L400.12 1126.13L402.7 1124.95L405.38 1123.71L408.08 1122.55L410.7 1121.6L413.19 1120.86L415.69 1120.19L418.21 1119.6L420.74 1119.09L423.27 1118.66L425.8 1118.3L428.34 1118.09L430.95 1118.04L433.55 1118.07L436.11 1118.09L438.54 1118.03L440.8 1117.8L442.5 1117.42L444.21 1116.88L445.84 1116.29L447.33 1115.76L448.61 1115.39L449.6 1115.3L449.94 1115.37L450.27 1115.51L450.56 1115.67L450.79 1115.83L450.94 1115.95L451 1116L452.9 1134.9L453.3 1134.58L454.36 1133.71L455.87 1132.45L457.6 1130.95L459.35 1129.35L460.9 1127.8L462.71 1125.52L464.54 1122.76L466.39 1119.83L468.28 1117.06L470.21 1114.77L472.2 1113.3L473.61 1112.81L475.03 1112.64L476.47 1112.69L477.94 1112.9L479.45 1113.2L481 1113.5L482.99 1113.89L485.08 1114.38L487.23 1115L489.37 1115.76L491.48 1116.68L493.5 1117.8L495.73 1119.38L497.89 1121.25L500 1123.34L502.06 1125.59L504.09 1127.93L506.1 1130.3L508.26 1133.01L510.36 1135.9L512.42 1138.91L514.46 1141.95L516.51 1144.97L518.6 1147.9L520.63 1150.75L522.63 1153.66L524.63 1156.54L526.7 1159.32L528.87 1161.9L531.2 1164.2L533.51 1166.12L535.97 1167.92L538.51 1169.56L541.09 1170.99L543.67 1172.15L546.2 1173L548.29 1173.44L550.35 1173.65L552.4 1173.67L554.47 1173.54L556.6 1173.3L558.8 1173L561.58 1172.47L564.49 1171.68L567.46 1170.75L570.46 1169.76L573.42 1168.81L576.3 1168L578.82 1167.33L581.22 1166.65L583.6 1166L586.03 1165.43L588.6 1164.98L591.4 1164.7L595.65 1164.7L600.29 1165.09L605.2 1165.7L610.23 1166.37L615.24 1166.93L620.1 1167.2L624.86 1167.09L629.75 1166.72L634.62 1166.24L639.34 1165.8L643.75 1165.57L647.7 1165.7L650.1 1165.96L652.3 1166.28L654.36 1166.7L656.33 1167.25L658.26 1167.97L660.2 1168.9L662.42 1170.27L664.58 1171.94L666.69 1173.83L668.76 1175.88L670.79 1178.03L672.8 1180.2L674.95 1182.66L677.03 1185.27L679.07 1187.99L681.11 1190.79L683.17 1193.63L685.3 1196.5L687.7 1199.85L690.11 1203.45L692.56 1207.1L695.07 1210.63L697.67 1213.86L700.4 1216.6L702.75 1218.53L705.19 1220.27L707.69 1221.81L710.23 1223.11L712.81 1224.15L715.4 1224.9L717.84 1225.3L720.29 1225.4L722.78 1225.28L725.3 1224.98L727.87 1224.57L730.5 1224.1L733.76 1223.34L737.18 1222.27L740.67 1221.04L744.14 1219.8L747.48 1218.7L750.6 1217.9L752.79 1217.48L754.8 1217.16L756.74 1216.92L758.71 1216.75L760.8 1216.65L763.1 1216.6L766.78 1216.72L770.83 1217.08L775.12 1217.57L779.53 1218.07L783.93 1218.45L788.2 1218.6L792.88 1218.45L798.24 1218.08L803.59 1217.6L808.25 1217.12L811.55 1216.75L812.8 1216.6L814.6 1227.9L814.96 1227.35L815.91 1225.97L817.29 1224.14L818.89 1222.26L820.56 1220.71L822.1 1219.9L823.5 1219.8L825.02 1220.07L826.6 1220.62L828.14 1221.4L829.6 1222.35L830.9 1223.4L832.18 1225.07L833.22 1227.28L834.13 1229.73L835.02 1232.11L835.97 1234.1L837.1 1235.4L837.89 1235.74L838.72 1235.8L839.57 1235.71L840.44 1235.61L841.32 1235.63L842.2 1235.9L843.6 1236.83L845.01 1238.17L846.45 1239.81L847.9 1241.64L849.39 1243.57L850.9 1245.5L852.9 1248.13L854.94 1251.05L857.03 1254.13L859.15 1257.23L861.31 1260.24L863.5 1263L865.5 1265.39L867.5 1267.79L869.53 1270.11L871.62 1272.24L873.76 1274.1L876 1275.6L877.97 1276.58L879.99 1277.36L882.06 1277.93L884.18 1278.32L886.36 1278.54L888.6 1278.6L891.34 1278.37L894.17 1277.78L897.09 1276.96L900.07 1276.02L903.08 1275.09L906.1 1274.3L909.34 1273.51L912.6 1272.67L915.91 1271.83L919.26 1271.08L922.69 1270.48L926.2 1270.1L930.18 1270.03L934.26 1270.27L938.42 1270.7L942.65 1271.18L946.95 1271.59L951.3 1271.8L956.37 1271.76L961.81 1271.55L967.32 1271.26L972.62 1270.95L977.41 1270.7L981.4 1270.6L983.12 1270.55L984.59 1270.46L985.93 1270.39L987.21 1270.4L988.54 1270.55L990 1270.9L992.34 1271.77L994.82 1272.99L997.39 1274.5L1000 1276.25L1002.58 1278.16L1005.1 1280.2L1008.12 1282.98L1011.12 1286.14L1014.1 1289.56L1017.03 1293.13L1019.9 1296.71L1022.7 1300.2L1025.26 1303.63L1027.67 1307.22L1030.02 1310.83L1032.41 1314.32L1034.94 1317.52L1037.7 1320.3L1040.43 1322.48L1043.35 1324.49L1046.38 1326.27L1049.44 1327.79L1052.44 1328.98L1055.3 1329.8L1057.43 1330.15L1059.46 1330.24L1061.47 1330.13L1063.49 1329.87L1065.58 1329.51L1067.8 1329.1L1070.91 1328.33L1074.21 1327.23L1077.63 1325.95L1081.1 1324.68L1084.55 1323.57L1087.9 1322.8L1090.84 1322.41L1093.71 1322.21L1096.55 1322.15L1099.43 1322.17L1102.4 1322.24L1105.5 1322.3L1109.44 1322.43L1113.59 1322.68L1117.86 1322.99L1122.17 1323.29L1126.44 1323.52L1130.6 1323.6L1134.5 1323.46L1138.44 1323.13L1142.35 1322.73L1146.14 1322.38L1149.75 1322.2L1153.1 1322.3L1155.44 1322.52L1157.65 1322.78L1159.75 1323.14L1161.77 1323.64L1163.75 1324.35L1165.7 1325.3L1167.92 1326.8L1170.02 1328.68L1172.06 1330.83L1174.07 1333.15L1176.11 1335.54L1178.2 1337.9L1180.67 1340.61L1183.18 1343.45L1185.72 1346.38L1188.26 1349.37L1190.79 1352.39L1193.3 1355.4L1195.78 1358.61L1198.18 1362.01L1200.58 1365.43L1203.03 1368.72L1205.61 1371.73L1208.4 1374.3L1211.1 1376.27L1213.97 1378.05L1216.95 1379.6L1219.97 1380.89L1222.97 1381.87L1225.9 1382.5L1228.42 1382.71L1230.9 1382.59L1233.36 1382.23L1235.85 1381.71L1238.38 1381.11L1241 1380.5L1244.2 1379.63L1247.5 1378.48L1250.87 1377.22L1254.28 1376L1257.7 1374.98L1261.1 1374.3L1264.41 1374.02L1267.74 1374.02L1271.07 1374.2L1274.42 1374.48L1277.76 1374.77L1281.1 1375L1284.43 1375.22L1287.75 1375.5L1291.08 1375.81L1294.41 1376.07L1297.78 1376.26L1301.2 1376.3L1304.95 1376.05L1308.83 1375.52L1312.75 1374.89L1316.61 1374.35L1320.32 1374.09L1323.8 1374.3L1326.53 1374.82L1329.12 1375.52L1331.61 1376.43L1334.02 1377.55L1336.41 1378.9L1338.8 1380.5L1341.84 1383.06L1344.79 1386.2L1347.69 1389.72L1350.57 1393.42L1353.47 1397.11L1356.4 1400.6L1359.34 1403.99L1362.25 1407.45L1365.16 1410.91L1368.13 1414.27L1371.2 1417.46L1374.4 1420.4L1377.59 1423.1L1380.9 1425.8L1384.31 1428.36L1387.75 1430.58L1391.2 1432.32L1394.6 1433.4L1397.45 1433.68L1400.27 1433.44L1403.1 1432.83L1405.95 1432.04L1408.88 1431.2L1411.9 1430.5L1415.53 1429.71L1419.25 1428.77L1423.07 1427.79L1426.97 1426.86L1430.95 1426.1L1435 1425.6L1439.63 1425.46L1444.43 1425.66L1449.33 1426.06L1454.25 1426.51L1459.13 1426.87L1463.9 1427L1468.41 1426.78L1472.97 1426.3L1477.5 1425.73L1481.89 1425.26L1486.06 1425.06L1489.9 1425.3L1492.59 1425.75L1495.08 1426.34L1497.44 1427.08L1499.72 1428L1501.99 1429.13L1504.3 1430.5L1507.25 1432.66L1510.18 1435.27L1513.08 1438.22L1515.95 1441.37L1518.79 1444.61L1521.6 1447.8L1524.49 1451.28L1527.25 1454.98L1529.98 1458.76L1532.77 1462.53L1535.71 1466.14L1538.9 1469.5L1542.44 1472.85L1546.23 1476.28L1550.17 1479.56L1554.17 1482.46L1558.15 1484.75L1562 1486.2L1564.91 1486.64L1567.78 1486.56L1570.63 1486.1L1573.49 1485.41L1576.37 1484.63L1579.3 1483.9L1582.59 1482.97L1585.93 1481.75L1589.3 1480.41L1592.69 1479.14L1596.09 1478.11L1599.5 1477.5L1602.79 1477.4L1606.02 1477.68L1609.27 1478.19L1612.59 1478.78L1616.05 1479.3L1619.7 1479.6L1625.41 1479.66L1632.33 1479.53L1639.47 1479.29L1645.81 1479.01L1650.36 1478.79L1652.1 1478.7L1652.9 1500.6L1653.56 1500.58L1655.3 1500.54L1657.76 1500.54L1660.59 1500.62L1663.42 1500.83L1665.9 1501.2L1668.3 1501.76L1670.72 1502.43L1673.15 1503.24L1675.56 1504.25L1677.95 1505.49L1680.3 1507L1683.31 1509.52L1686.25 1512.6L1689.15 1516.08L1692.02 1519.79L1694.86 1523.55L1697.7 1527.2L1700.59 1531.07L1703.39 1535.19L1706.16 1539.37L1708.98 1543.41L1711.91 1547.12L1715 1550.3L1717.72 1552.62L1720.53 1554.79L1723.41 1556.72L1726.35 1558.35L1729.32 1559.6L1732.3 1560.4L1735.11 1560.63L1737.94 1560.37L1740.81 1559.79L1743.7 1559.02L1746.63 1558.21L1749.6 1557.5L1752.92 1556.73L1756.33 1555.81L1759.78 1554.83L1763.22 1553.91L1766.58 1553.13L1769.8 1552.6L1772.76 1552.38L1776.06 1552.32L1779.3 1552.36L1782.1 1552.46L1784.06 1552.56L1784.8 1552.6" stroke="#ff0000" stroke-width="3.1" fill="none" stroke-linejoin="round" stroke-linecap="round"/>
<path d="M235.1 1058.1L1784.8 1533.8" stroke="#000" stroke-width="3.0" fill="none" stroke-linecap="round"/>
<text x="855" y="967" font-size="53" font-family="'Liberation Serif', 'Times New Roman', serif" fill="#000" textLength="257" lengthAdjust="spacingAndGlyphs">XJKE-XJSH</text>
<rect x="1430" y="1019" width="373.4" height="107.5" fill="#fff" stroke="#262626" stroke-width="1.8"/>
<path d="M1439.8 1048.2H1529.4" stroke="#ff0000" stroke-width="3.1"/>
<path d="M1439.8 1099.3H1529.4" stroke="#262626" stroke-width="3.0"/>
<text x="1536.8" y="1056.1" font-size="37.5" font-family="'Liberation Serif', 'Times New Roman', serif" fill="#000" textLength="235" lengthAdjust="spacingAndGlyphs">Length change</text>
<text x="1536.8" y="1106.7" font-size="37.5" font-family="'Liberation Serif', 'Times New Roman', serif" fill="#000" textLength="258" lengthAdjust="spacingAndGlyphs">Trend of change</text>
<text x="1460" y="1181.8" font-size="42.5" font-family="'Liberation Serif', 'Times New Roman', serif" fill="#000" textLength="275" lengthAdjust="spacingAndGlyphs">m = -3.77mm/a</text>
<text transform="translate(56.5 1305) rotate(-90)" x="0" y="0" text-anchor="middle" font-size="42" font-family="'Liberation Serif', 'Times New Roman', serif" fill="#1e1e1e" textLength="486" lengthAdjust="spacingAndGlyphs">Baseline length change /mm</text>
<text x="894.5" y="1703.2" font-size="42" font-family="'Liberation Serif', 'Times New Roman', serif" fill="#1e1e1e" textLength="180" lengthAdjust="spacingAndGlyphs">Date /year</text>
<text x="907.5" y="1793" font-size="54" font-family="'Liberation Serif', 'Times New Roman', serif" fill="#000" textLength="68" lengthAdjust="spacing">(<tspan font-weight="bold">b</tspan>)</text>
<path d="M298.93 2537.9V2520.1M298.93 1910.7V1928.5M470.06 2537.9V2520.1M470.06 1910.7V1928.5M641.19 2537.9V2520.1M641.19 1910.7V1928.5M812.32 2537.9V2520.1M812.32 1910.7V1928.5M983.45 2537.9V2520.1M983.45 1910.7V1928.5M1154.58 2537.9V2520.1M1154.58 1910.7V1928.5M1325.71 2537.9V2520.1M1325.71 1910.7V1928.5M1496.84 2537.9V2520.1M1496.84 1910.7V1928.5M1667.97 2537.9V2520.1M1667.97 1910.7V1928.5M127.8 2036.14H145.6M1839.1 2036.14H1821.3M127.8 2161.58H145.6M1839.1 2161.58H1821.3M127.8 2287.02H145.6M1839.1 2287.02H1821.3M127.8 2412.46H145.6M1839.1 2412.46H1821.3" stroke="#4a4a4a" stroke-width="1.7" fill="none"/>
<rect x="127.8" y="1910.7" width="1711.3" height="627.2" stroke="#262626" stroke-width="2.1" fill="none"/>
<text transform="translate(116.2 1923.48) scale(0.965 1)" font-size="31.8" font-family="'Liberation Sans', Arial, sans-serif" fill="#1e1e1e" text-anchor="end">10</text>
<text transform="translate(116.2 2048.92) scale(0.965 1)" font-size="31.8" font-family="'Liberation Sans', Arial, sans-serif" fill="#1e1e1e" text-anchor="end">0</text>
<text transform="translate(116.2 2174.36) scale(0.965 1)" font-size="31.8" font-family="'Liberation Sans', Arial, sans-serif" fill="#1e1e1e" text-anchor="end">-10</text>
<text transform="translate(116.2 2299.8) scale(0.965 1)" font-size="31.8" font-family="'Liberation Sans', Arial, sans-serif" fill="#1e1e1e" text-anchor="end">-20</text>
<text transform="translate(116.2 2425.24) scale(0.965 1)" font-size="31.8" font-family="'Liberation Sans', Arial, sans-serif" fill="#1e1e1e" text-anchor="end">-30</text>
<text transform="translate(116.2 2550.68) scale(0.965 1)" font-size="31.8" font-family="'Liberation Sans', Arial, sans-serif" fill="#1e1e1e" text-anchor="end">-40</text>
<text transform="translate(127.8 2581.9) scale(0.965 1)" font-size="31.8" font-family="'Liberation Sans', Arial, sans-serif" fill="#1e1e1e" text-anchor="middle">2010</text>
<text transform="translate(298.93 2581.9) scale(0.965 1)" font-size="31.8" font-family="'Liberation Sans', Arial, sans-serif" fill="#1e1e1e" text-anchor="middle">2011</text>
<text transform="translate(470.06 2581.9) scale(0.965 1)" font-size="31.8" font-family="'Liberation Sans', Arial, sans-serif" fill="#1e1e1e" text-anchor="middle">2012</text>
<text transform="translate(641.19 2581.9) scale(0.965 1)" font-size="31.8" font-family="'Liberation Sans', Arial, sans-serif" fill="#1e1e1e" text-anchor="middle">2013</text>
<text transform="translate(812.32 2581.9) scale(0.965 1)" font-size="31.8" font-family="'Liberation Sans', Arial, sans-serif" fill="#1e1e1e" text-anchor="middle">2014</text>
<text transform="translate(983.45 2581.9) scale(0.965 1)" font-size="31.8" font-family="'Liberation Sans', Arial, sans-serif" fill="#1e1e1e" text-anchor="middle">2015</text>
<text transform="translate(1154.58 2581.9) scale(0.965 1)" font-size="31.8" font-family="'Liberation Sans', Arial, sans-serif" fill="#1e1e1e" text-anchor="middle">2016</text>
<text transform="translate(1325.71 2581.9) scale(0.965 1)" font-size="31.8" font-family="'Liberation Sans', Arial, sans-serif" fill="#1e1e1e" text-anchor="middle">2017</text>
<text transform="translate(1496.84 2581.9) scale(0.965 1)" font-size="31.8" font-family="'Liberation Sans', Arial, sans-serif" fill="#1e1e1e" text-anchor="middle">2018</text>
<text transform="translate(1667.97 2581.9) scale(0.965 1)" font-size="31.8" font-family="'Liberation Sans', Arial, sans-serif" fill="#1e1e1e" text-anchor="middle">2019</text>
<text transform="translate(1839.1 2581.9) scale(0.965 1)" font-size="31.8" font-family="'Liberation Sans', Arial, sans-serif" fill="#1e1e1e" text-anchor="middle">2020</text>
<path d="M213 2037.4L213.04 2036.5L213.17 2034.18L213.39 2031.06L213.7 2027.72L214.1 2024.77L214.6 2022.8L214.85 2022.27L215.14 2021.78L215.44 2021.36L215.74 2021.03L216.03 2020.84L216.3 2020.8L216.61 2021.2L216.84 2022.12L217.04 2023.33L217.27 2024.62L217.6 2025.78L218.1 2026.6L218.71 2026.97L219.45 2027.15L220.26 2027.23L221.09 2027.3L221.89 2027.46L222.6 2027.8L223.3 2028.55L223.89 2029.59L224.43 2030.76L224.98 2031.88L225.58 2032.78L226.3 2033.3L227.02 2033.38L227.78 2033.21L228.58 2032.86L229.45 2032.42L230.38 2031.97L231.4 2031.6L233.27 2031.03L235.39 2030.37L237.7 2029.68L240.15 2029.06L242.66 2028.57L245.2 2028.3L248.29 2028.28L251.5 2028.52L254.83 2028.96L258.24 2029.52L261.7 2030.16L265.2 2030.8L269.81 2031.72L275.23 2032.93L280.72 2034.23L285.55 2035.41L288.99 2036.27L290.3 2036.6L290.32 2030.95L290.42 2016.69L290.65 1997.84L291.09 1978.39L291.78 1962.37L292.8 1953.8L293 1953.27L293.21 1952.82L293.43 1952.46L293.65 1952.2L293.87 1952.05L294.1 1952L294.4 1952.14L294.71 1952.5L295.02 1953.02L295.33 1953.66L295.63 1954.37L295.9 1955.1L296.38 1956.97L296.85 1959.55L297.26 1962.37L297.6 1964.96L297.82 1966.86L297.9 1967.6L298.08 1967.65L298.57 1967.79L299.26 1968.05L300.06 1968.43L300.87 1968.94L301.6 1969.6L303.64 1972.89L305.82 1977.99L308.12 1984.27L310.51 1991.11L312.95 1997.89L315.4 2004L318.02 2009.7L320.95 2015.74L323.92 2021.72L326.68 2027.26L328.96 2031.95L330.5 2035.4L330.84 2036.3L331.13 2037.16L331.37 2037.92L331.55 2038.54L331.66 2038.95L331.7 2039.1L331.69 2039.83L331.69 2041.75L331.73 2044.44L331.86 2047.47L332.1 2050.43L332.5 2052.9L332.98 2054.71L333.57 2056.43L334.24 2058.09L335.01 2059.72L335.86 2061.35L336.8 2063L337.96 2064.92L339.24 2066.87L340.62 2068.81L342.12 2070.71L343.75 2072.55L345.5 2074.3L347.7 2076.2L350.14 2078.05L352.73 2079.82L355.4 2081.47L358.05 2082.98L360.6 2084.3L362.74 2085.32L364.9 2086.26L367.05 2087.09L369.16 2087.78L371.19 2088.3L373.1 2088.6L374.64 2088.62L376.32 2088.47L377.95 2088.21L379.35 2087.92L380.33 2087.69L380.7 2087.6L380.49 2077.9L380.06 2053.49L379.75 2021.36L379.87 1988.53L380.75 1962.01L382.7 1948.8L383.07 1948.27L383.45 1947.87L383.85 1947.6L384.27 1947.45L384.71 1947.42L385.2 1947.5L387.12 1949.08L389.51 1952.51L392.22 1957.18L395.1 1962.49L398.01 1967.83L400.8 1972.6L403.65 1977.14L406.54 1981.74L409.46 1986.37L412.4 1991.01L415.35 1995.63L418.3 2000.2L421.24 2004.64L424.22 2009.04L427.22 2013.42L430.19 2017.79L433.09 2022.18L435.9 2026.6L438.55 2030.9L441.15 2035.15L443.69 2039.41L446.17 2043.75L448.57 2048.23L450.9 2052.9L453.7 2059.23L456.75 2066.79L459.72 2074.52L462.26 2081.35L464.03 2086.24L464.7 2088.1L464.91 2088.22L465.47 2088.52L466.23 2088.89L467.08 2089.21L467.88 2089.39L468.5 2089.3L469.17 2088.5L469.77 2087.04L470.27 2085.28L470.66 2083.59L470.91 2082.31L471 2081.8L475.5 2090.6L478.5 2079.3L478.83 2080.22L479.73 2082.61L481.05 2085.91L482.65 2089.55L484.38 2092.97L486.1 2095.6L487.55 2097.12L489.12 2098.34L490.78 2099.41L492.51 2100.46L494.29 2101.65L496.1 2103.1L498.79 2105.75L501.62 2108.86L504.56 2112.24L507.57 2115.67L510.63 2118.96L513.7 2121.9L516.53 2124.38L519.42 2126.81L522.34 2129.13L525.28 2131.24L528.24 2133.06L531.2 2134.5L533.69 2135.41L536.17 2136.1L538.66 2136.57L541.17 2136.87L543.72 2137L546.3 2137L549.15 2136.77L552.03 2136.27L554.95 2135.58L557.91 2134.78L560.89 2133.96L563.9 2133.2L567.19 2132.35L570.55 2131.39L573.94 2130.39L577.33 2129.46L580.66 2128.7L583.9 2128.2L586.66 2127.98L589.36 2127.91L592.01 2127.96L594.65 2128.13L597.3 2128.38L600 2128.7L602.87 2129.17L605.74 2129.79L608.62 2130.51L611.54 2131.28L614.53 2132.03L617.6 2132.7L621.25 2133.34L625.1 2133.9L629.03 2134.44L632.93 2135.02L636.69 2135.69L640.2 2136.5L642.94 2137.25L645.55 2138.03L648.06 2138.87L650.5 2139.81L652.91 2140.91L655.3 2142.2L657.91 2143.88L660.46 2145.8L662.96 2147.9L665.43 2150.14L667.87 2152.45L670.3 2154.8L672.86 2157.46L675.36 2160.32L677.82 2163.28L680.29 2166.22L682.81 2169.03L685.4 2171.6L687.83 2173.81L690.28 2175.99L692.77 2178.05L695.3 2179.94L697.87 2181.58L700.5 2182.9L702.92 2183.79L705.4 2184.45L707.91 2184.91L710.45 2185.2L712.98 2185.36L715.5 2185.4L717.99 2185.29L720.46 2185L722.92 2184.57L725.42 2184.04L727.97 2183.47L730.6 2182.9L733.81 2182.14L737.16 2181.22L740.59 2180.24L744.02 2179.3L747.38 2178.48L750.6 2177.9L753.17 2177.57L755.59 2177.34L757.95 2177.21L760.37 2177.17L762.92 2177.23L765.7 2177.4L770.22 2177.9L775.28 2178.72L780.62 2179.74L785.99 2180.85L791.13 2181.94L795.8 2182.9L799.05 2183.52L802.14 2184.08L805.11 2184.63L807.96 2185.21L810.72 2185.85L813.4 2186.6L815.63 2187.3L817.75 2188.02L819.79 2188.78L821.81 2189.63L823.83 2190.59L825.9 2191.7L828.41 2193.2L830.96 2194.88L833.52 2196.72L836.06 2198.7L838.56 2200.8L841 2203L843.58 2205.69L846.05 2208.68L848.48 2211.83L850.91 2214.95L853.4 2217.9L856 2220.5L858.46 2222.56L861.03 2224.5L863.65 2226.3L866.25 2227.93L868.75 2229.37L871.1 2230.6L872.74 2231.26L874.39 2231.72L876 2232.08L877.49 2232.44L878.82 2232.92L879.9 2233.6L880.59 2234.41L881.2 2235.46L881.7 2236.58L882.08 2237.59L882.32 2238.32L882.4 2238.6L882.62 2238.36L883.21 2237.73L884.09 2236.86L885.14 2235.9L886.28 2235L887.4 2234.3L888.93 2233.69L890.63 2233.24L892.48 2232.89L894.45 2232.58L896.53 2232.24L898.7 2231.8L902.12 2230.96L905.99 2229.95L910.07 2228.87L914.14 2227.84L917.96 2226.94L921.3 2226.3L923.15 2226.01L924.79 2225.79L926.33 2225.62L927.86 2225.52L929.48 2225.48L931.3 2225.5L934.21 2225.66L937.36 2225.98L940.7 2226.42L944.19 2226.95L947.77 2227.52L951.4 2228.1L956 2228.83L960.95 2229.64L966.03 2230.52L971.05 2231.45L975.81 2232.42L980.1 2233.4L982.91 2234.09L985.52 2234.73L987.99 2235.39L990.37 2236.14L992.72 2237.02L995.1 2238.1L997.7 2239.51L1000.27 2241.11L1002.81 2242.88L1005.31 2244.79L1007.77 2246.8L1010.2 2248.9L1012.78 2251.37L1015.28 2254.07L1017.74 2256.91L1020.19 2259.77L1022.67 2262.57L1025.2 2265.2L1027.63 2267.65L1030.04 2270.13L1032.48 2272.55L1034.98 2274.81L1037.57 2276.83L1040.3 2278.5L1043.05 2279.77L1045.93 2280.81L1048.9 2281.62L1051.91 2282.21L1054.93 2282.6L1057.9 2282.8L1060.8 2282.74L1063.69 2282.39L1066.58 2281.85L1069.48 2281.18L1072.42 2280.47L1075.4 2279.8L1078.76 2279.01L1082.26 2278.08L1085.79 2277.1L1089.25 2276.16L1092.53 2275.36L1095.5 2274.8L1097.3 2274.54L1098.91 2274.35L1100.43 2274.23L1101.96 2274.18L1103.62 2274.2L1105.5 2274.3L1109.03 2274.69L1113.03 2275.37L1117.35 2276.23L1121.82 2277.19L1126.29 2278.14L1130.6 2279L1134.86 2279.73L1139.22 2280.42L1143.58 2281.1L1147.84 2281.83L1151.91 2282.65L1155.7 2283.6L1158.48 2284.42L1161.1 2285.27L1163.6 2286.17L1166.02 2287.17L1168.41 2288.3L1170.8 2289.6L1173.39 2291.24L1175.93 2293.09L1178.43 2295.1L1180.9 2297.22L1183.36 2299.4L1185.8 2301.6L1188.35 2304L1190.86 2306.55L1193.34 2309.16L1195.83 2311.77L1198.34 2314.31L1200.9 2316.7L1203.35 2318.92L1205.81 2321.16L1208.29 2323.33L1210.8 2325.34L1213.37 2327.1L1216 2328.5L1218.4 2329.44L1220.85 2330.16L1223.34 2330.68L1225.86 2331.01L1228.42 2331.17L1231 2331.2L1233.84 2330.98L1236.72 2330.48L1239.64 2329.78L1242.59 2328.99L1245.58 2328.2L1248.6 2327.5L1251.9 2326.78L1255.3 2326L1258.74 2325.22L1262.15 2324.5L1265.49 2323.9L1268.7 2323.5L1271.28 2323.3L1273.74 2323.2L1276.15 2323.19L1278.56 2323.27L1281.06 2323.44L1283.7 2323.7L1287.22 2324.23L1290.95 2325.01L1294.8 2325.92L1298.69 2326.88L1302.55 2327.77L1306.3 2328.5L1309.74 2328.96L1313.16 2329.25L1316.55 2329.49L1319.9 2329.79L1323.19 2330.26L1326.4 2331L1329.51 2332.08L1332.62 2333.44L1335.67 2334.96L1338.6 2336.52L1341.37 2338.01L1343.9 2339.3L1345.49 2340.01L1346.92 2340.59L1348.28 2341.13L1349.61 2341.72L1351 2342.48L1352.5 2343.5L1355.32 2346L1358.34 2349.26L1361.51 2352.99L1364.78 2356.87L1368.09 2360.61L1371.4 2363.9L1374.48 2366.66L1377.64 2369.4L1380.84 2372.03L1384.04 2374.41L1387.17 2376.44L1390.2 2378L1392.32 2378.83L1394.36 2379.44L1396.36 2379.85L1398.39 2380.1L1400.49 2380.21L1402.7 2380.2L1405.64 2379.92L1408.75 2379.31L1411.97 2378.48L1415.22 2377.54L1418.46 2376.61L1421.6 2375.8L1424.66 2374.92L1427.85 2373.8L1431.03 2372.68L1434.02 2371.82L1436.66 2371.44L1438.8 2371.8L1440.09 2372.84L1441.22 2374.51L1442.16 2376.45L1442.88 2378.29L1443.34 2379.66L1443.5 2380.2L1443.72 2379.73L1444.3 2378.54L1445.14 2376.94L1446.14 2375.22L1447.2 2373.7L1448.2 2372.7L1448.88 2372.3L1449.55 2372.04L1450.25 2371.89L1451.02 2371.82L1451.89 2371.8L1452.9 2371.8L1455.95 2372.03L1459.86 2372.65L1464.31 2373.54L1469.02 2374.56L1473.69 2375.59L1478 2376.5L1481.8 2377.24L1485.6 2377.95L1489.35 2378.67L1493.03 2379.43L1496.59 2380.26L1500 2381.2L1502.81 2382.06L1505.51 2382.93L1508.13 2383.86L1510.68 2384.88L1513.2 2386.05L1515.7 2387.4L1518.38 2389.11L1520.99 2391.02L1523.55 2393.1L1526.1 2395.32L1528.68 2397.63L1531.3 2400L1534.37 2402.97L1537.44 2406.25L1540.54 2409.66L1543.69 2413.01L1546.9 2416.12L1550.2 2418.8L1553.21 2420.9L1556.29 2422.86L1559.41 2424.64L1562.58 2426.16L1565.78 2427.37L1569 2428.2L1572.06 2428.57L1575.15 2428.57L1578.27 2428.28L1581.41 2427.8L1584.59 2427.21L1587.8 2426.6L1591.38 2425.76L1595.02 2424.62L1598.69 2423.36L1602.39 2422.13L1606.1 2421.09L1609.8 2420.4L1613.67 2420.26L1617.84 2420.58L1622.02 2421.07L1625.92 2421.49L1629.24 2421.55L1631.7 2421L1632.6 2420.35L1633.38 2419.44L1634.02 2418.45L1634.5 2417.53L1634.8 2416.86L1634.9 2416.6L1635.07 2416.99L1635.53 2418.01L1636.26 2419.41L1637.21 2420.95L1638.34 2422.39L1639.6 2423.5L1642.55 2424.72L1646.73 2425.69L1651.36 2426.42L1655.63 2426.92L1658.78 2427.21L1660 2427.3L1662.5 2436.7L1663 2436.84L1664.32 2437.21L1666.2 2437.75L1668.36 2438.41L1670.55 2439.11L1672.5 2439.8L1674.51 2440.54L1676.55 2441.29L1678.62 2442.1L1680.73 2443.03L1682.85 2444.15L1685 2445.5L1688.02 2447.92L1691.08 2450.9L1694.19 2454.23L1697.35 2457.71L1700.59 2461.13L1703.9 2464.3L1707.39 2467.44L1710.98 2470.68L1714.64 2473.86L1718.35 2476.83L1722.07 2479.43L1725.8 2481.5L1728.88 2482.81L1731.97 2483.83L1735.07 2484.6L1738.2 2485.14L1741.37 2485.46L1744.6 2485.6L1748.18 2485.44L1751.87 2484.92L1755.6 2484.16L1759.34 2483.27L1763.02 2482.34L1766.6 2481.5L1769.88 2480.69L1773.16 2479.74L1776.4 2478.77L1779.55 2477.89L1782.56 2477.2L1785.4 2476.8L1787.65 2476.76L1790.08 2476.92L1792.45 2477.18L1794.46 2477.47L1795.87 2477.7L1796.4 2477.8" stroke="#ff0000" stroke-width="3.1" fill="none" stroke-linejoin="round" stroke-linecap="round"/>
<path d="M213 2025.3L1796.4 2473.1" stroke="#000" stroke-width="3.0" fill="none" stroke-linecap="round"/>
<text x="852" y="1881.2" font-size="53" font-family="'Liberation Serif', 'Times New Roman', serif" fill="#000" textLength="265" lengthAdjust="spacingAndGlyphs">XJKC-XJDS</text>
<rect x="1437.1" y="1934.5" width="378.9" height="109.1" fill="#fff" stroke="#262626" stroke-width="1.8"/>
<path d="M1446.4 1964.5H1537.3" stroke="#ff0000" stroke-width="3.1"/>
<path d="M1446.4 2015.4H1537.3" stroke="#262626" stroke-width="3.0"/>
<text x="1545" y="1972.5" font-size="37.5" font-family="'Liberation Serif', 'Times New Roman', serif" fill="#000" textLength="237" lengthAdjust="spacingAndGlyphs">Length change</text>
<text x="1545" y="2024.1" font-size="37.5" font-family="'Liberation Serif', 'Times New Roman', serif" fill="#000" textLength="262" lengthAdjust="spacingAndGlyphs">Trend of change</text>
<text x="1467" y="2099.2" font-size="42.5" font-family="'Liberation Serif', 'Times New Roman', serif" fill="#000" textLength="279" lengthAdjust="spacingAndGlyphs">m = -3.87mm/a</text>
<text transform="translate(44 2224.7) rotate(-90)" x="0" y="0" text-anchor="middle" font-size="42" font-family="'Liberation Serif', 'Times New Roman', serif" fill="#1e1e1e" textLength="490" lengthAdjust="spacingAndGlyphs">Baseline length change /mm</text>
<text x="894" y="2628.1" font-size="42" font-family="'Liberation Serif', 'Times New Roman', serif" fill="#1e1e1e" textLength="181" lengthAdjust="spacingAndGlyphs">Date /year</text>
<text x="911.5" y="2721.9" font-size="54" font-family="'Liberation Serif', 'Times New Roman', serif" fill="#000" textLength="59.5" lengthAdjust="spacing">(<tspan font-weight="bold">c</tspan>)</text>
</g>
</svg></body></html>
